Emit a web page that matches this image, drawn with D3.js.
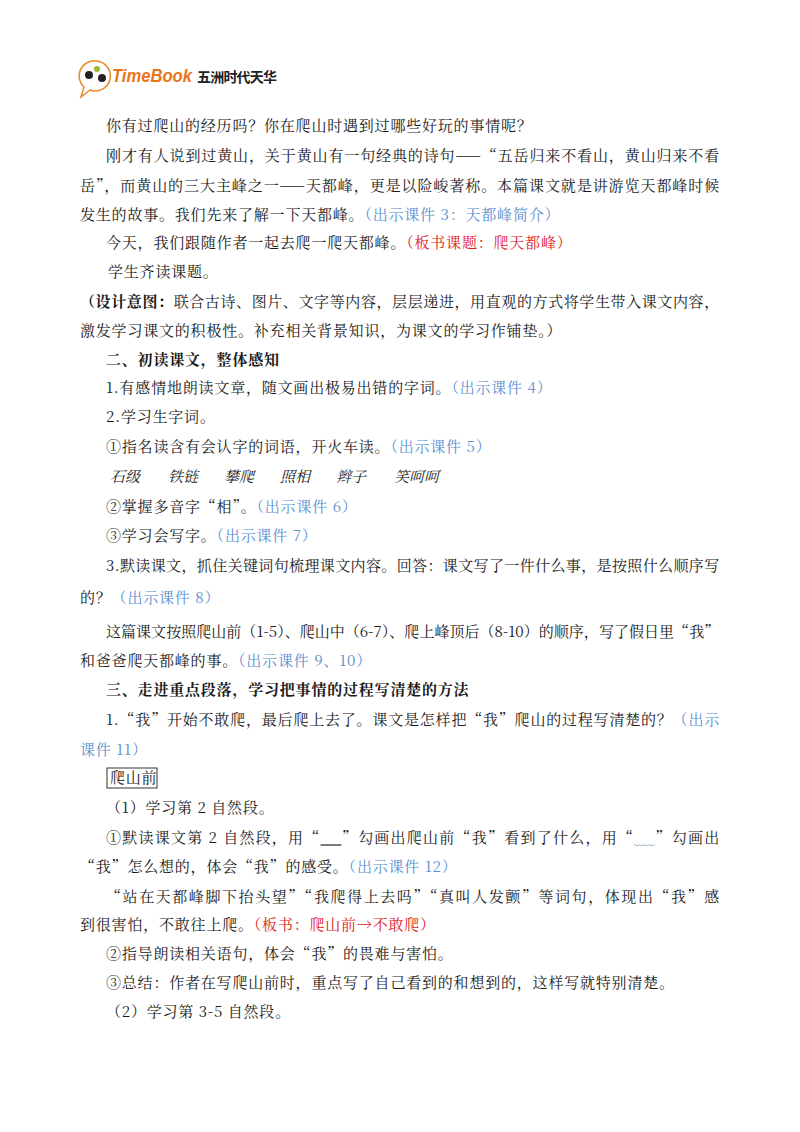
<!DOCTYPE html>
<html><head><meta charset="utf-8">
<script src="https://cdn.jsdelivr.net/npm/d3@7"></script>
<style>body{margin:0;background:#fff}</style></head>
<body><svg id="s" width="800" height="1132"></svg>
<script>
// segments: [text, style]  n=normal b=blue r=red k=bold
const lineText = [
 {x:106,y:126,s:[["你有过爬山的经历吗？你在爬山时遇到过哪些好玩的事情呢？","n"]]},
 {x:106,y:156,j:1,s:[["刚才有人说到过黄山，关于黄山有一句经典的诗句——“五岳归来不看山，黄山归来不看","n"]]},
 {x:80,y:186,j:1,s:[["岳”，而黄山的三大主峰之一——天都峰，更是以险峻著称。本篇课文就是讲游览天都峰时候","n"]]},
 {x:80,y:215,s:[["发生的故事。我们先来了解一下天都峰。","n"],["（出示课件 3：天都峰简介）","b"]]},
 {x:106,y:243,s:[["今天，我们跟随作者一起去爬一爬天都峰。","n"],["（板书课题：爬天都峰）","r"]]},
 {x:108,y:272,s:[["学生齐读课题。","n"]]},
 {x:80,y:302,j:1,s:[["（设计意图：","k"],["联合古诗、图片、文字等内容，层层递进，用直观的方式将学生带入课文内容，","n"]]},
 {x:80,y:331,s:[["激发学习课文的积极性。补充相关背景知识，为课文的学习作铺垫。）","n"]]},
 {x:106,y:360,s:[["二、初读课文，整体感知","k"]]},
 {x:106,y:388,s:[["1.有感情地朗读文章，随文画出极易出错的字词。","n"],["（出示课件 4）","b"]]},
 {x:106,y:417,s:[["2.学习生字词。","n"]]},
 {x:106,y:447,s:[["①指名读含有会认字的词语，开火车读。","n"],["（出示课件 5）","b"]]},
 {x:106,y:507,s:[["②掌握多音字“相”。","n"],["（出示课件 6）","b"]]},
 {x:106,y:536,s:[["③学习会写字。","n"],["（出示课件 7）","b"]]},
 {x:106,y:566,j:1,s:[["3.默读课文，抓住关键词句梳理课文内容。回答：课文写了一件什么事，是按照什么顺序写","n"]]},
 {x:80,y:598,s:[["的？","n"],["（出示课件 8）","b"]]},
 {x:106,y:632,j:1,s:[["这篇课文按照爬山前（1-5）、爬山中（6-7）、爬上峰顶后（8-10）的顺序，写了假日里“我”","n"]]},
 {x:80,y:661,s:[["和爸爸爬天都峰的事。","n"],["（出示课件 9、10）","b"]]},
 {x:106,y:690,s:[["三、走进重点段落，学习把事情的过程写清楚的方法","k"]]},
 {x:106,y:720,j:1,s:[["1.“我”开始不敢爬，最后爬上去了。课文是怎样把“我”爬山的过程写清楚的？","n"],["（出示","b"]]},
 {x:80,y:750,s:[["课件 11）","b"]]},
 {x:110,y:778,s:[["爬山前","n"]]},
 {x:106,y:808,s:[["（1）学习第 2 自然段。","n"]]},
 {x:106,y:838,j:1,id:"mark",s:[["①默读课文第 2 自然段，用“　 ”勾画出爬山前“我”看到了什么，用“　 ”勾画出","n"]]},
 {x:80,y:867,s:[["“我”怎么想的，体会“我”的感受。","n"],["（出示课件 12）","b"]]},
 {x:106,y:897,j:1,s:[["“站在天都峰脚下抬头望”“我爬得上去吗”“真叫人发颤”等词句，体现出“我”感","n"]]},
 {x:80,y:925,s:[["到很害怕，不敢往上爬。","n"],["（板书：爬山前→不敢爬）","r"]]},
 {x:106,y:954,s:[["②指导朗读相关语句，体会“我”的畏难与害怕。","n"]]},
 {x:106,y:983,s:[["③总结：作者在写爬山前时，重点写了自己看到的和想到的，这样写就特别清楚。","n"]]},
 {x:106,y:1012,s:[["（2）学习第 3-5 自然段。","n"]]}
];
const words = ["石级","铁链","攀爬","照相","辫子","笑呵呵"];
const wordX = [110,168,224,280,336,394];
const colors = {n:"#1a1a1a",b:"#5b8fd0",r:"#e02020",k:"#1a1a1a"};
const svg = d3.select("#s");
const F = "'Noto Serif CJK SC','Noto Sans CJK SC',sans-serif";
const FS = 15;
// logo
const g = svg.append("g");
g.append("path").attr("d","M96,61 a15,15 0 1,1 -6,29 l-9,7 l3,-10 a15,15 0 0,1 12,-26z").attr("fill","#fff").attr("stroke","#e8892b").attr("stroke-width",1.5);
g.append("circle").attr("cx",89).attr("cy",75).attr("r",4).attr("fill","#222");
g.append("circle").attr("cx",97).attr("cy",69).attr("r",3).attr("fill","#9ab82e");
g.append("circle").attr("cx",102).attr("cy",78).attr("r",4).attr("fill","#222");
g.append("text").attr("x",112).attr("y",82).attr("font-family","Arial,Liberation Sans").attr("font-weight","bold").attr("font-style","italic").attr("font-size",18).attr("textLength",80).attr("lengthAdjust","spacingAndGlyphs").attr("fill","#e8751a").text("TimeBook");
g.append("text").attr("x",197).attr("y",82).attr("font-family","'Noto Sans CJK SC'").attr("font-size",14).attr("textLength",80).attr("font-weight","bold").attr("fill","#222").text("五洲时代天华");
// lines
let markText=null;
lineText.forEach(l=>{
  const t = svg.append("text").attr("x",l.x).attr("y",l.y+5).attr("font-family",F).attr("font-size",FS).attr("letter-spacing",0.8);
  if(l.j) t.attr("textLength",720-l.x).attr("lengthAdjust","spacing");
  l.s.forEach(([txt,st])=>t.append("tspan").text(txt).attr("fill",colors[st]).attr("font-weight",st==="k"?"bold":null));
  if(l.id) markText={node:t.node(),str:l.s[0][0],y:l.y};
});
const xs = d3.scaleOrdinal().domain(words).range(wordX);
svg.selectAll(".w").data(words).join("text").attr("x",d=>xs(d)).attr("y",482)
 .attr("font-family",F).attr("font-size",FS).attr("font-style","italic").attr("fill","#1a1a1a").text(d=>d);
// box around 爬山前
svg.append("rect").attr("x",107).attr("y",768).attr("width",50).attr("height",20).attr("fill","none").attr("stroke","#333");
// underline and wave marks placed at the blank chars
const idx1 = markText.str.indexOf("　"), idx2 = markText.str.lastIndexOf("　");
const p1 = markText.node.getStartPositionOfChar(idx1).x, e1 = markText.node.getEndPositionOfChar(idx1+1).x;
const p2 = markText.node.getStartPositionOfChar(idx2).x, e2 = markText.node.getEndPositionOfChar(idx2+1).x;
const yl = markText.y+7;
svg.append("line").attr("x1",p1).attr("x2",e1).attr("y1",yl).attr("y2",yl).attr("stroke","#222").attr("stroke-width",1.2);
const n = 8, pts = d3.range(n+1).map(i=>[p2+(e2-p2)*i/n, yl+(i%2?1.5:-1)]);
svg.append("path").attr("d",d3.line().curve(d3.curveBasis)(pts)).attr("fill","none").attr("stroke","#7a9fb0").attr("stroke-width",0.8);
</script></body></html>
